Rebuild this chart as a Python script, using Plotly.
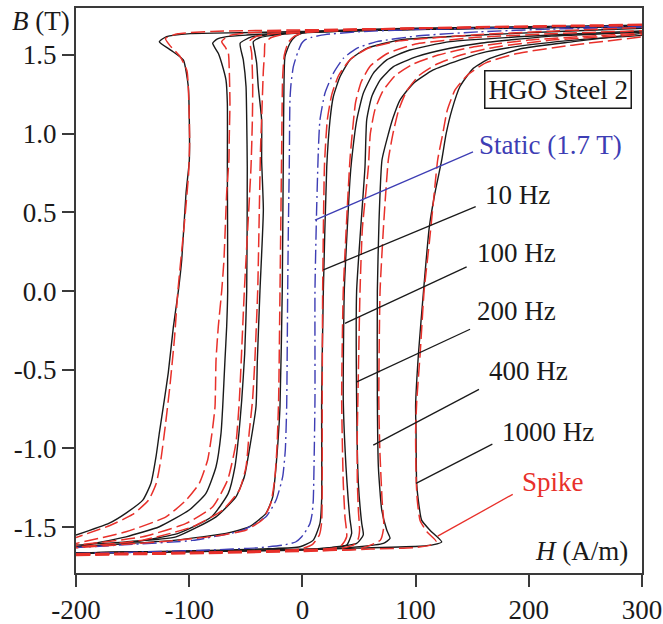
import plotly.graph_objects as go

# ---------------- data: B-H loops of HGO Steel 2 ----------------
# H in A/m, B in T.  "desc" = falling branch, "asc" = rising branch.

# static loop (1.7 T)
STATIC_DESC_H = [300, 200, 100, 50, 20, 8, 2, -0.6, -4, -8, -10, -11, -11.6, -12.4, -13, -13.9, -15.1, -17.4, -23.3, -32.2, -52.7, -97, -150, -200]
STATIC_DESC_B = [1.685, 1.675, 1.662, 1.648, 1.63, 1.612, 1.595, 1.575, 1.52, 1.426, 1.32, 1.214, 0.79, 0.4, 0.0, -0.735, -1.01, -1.18, -1.33, -1.435, -1.52, -1.585, -1.61, -1.63]
STATIC_ASC_H = [-200, -150, -82, -40, -17.4, -6, -0.6, 3.5, 6.7, 8.5, 9.6, 11.1, 11.1, 12.5, 14.1, 15.5, 19.9, 27.3, 36.1, 48, 65.6, 101, 157, 220, 300]
STATIC_ASC_B = [-1.668, -1.66, -1.646, -1.632, -1.615, -1.595, -1.562, -1.52, -1.477, -1.42, -1.33, -0.69, 0.0, 0.5, 0.896, 1.087, 1.257, 1.384, 1.479, 1.543, 1.585, 1.621, 1.648, 1.665, 1.678]

# 10 Hz measured / spike model
F10_DESC_H = [300, 200, 100, 40, 10, 0, -6, -11, -15.4, -16.3, -16.9, -17.8, -19.8, -21.5, -23.3, -26.2, -32.2, -46.9, -67.5, -111.7, -200]
F10_DESC_B = [1.69, 1.68, 1.67, 1.66, 1.65, 1.64, 1.62, 1.575, 1.49, 1.30, 0.83, 0.0, -0.735, -0.95, -1.117, -1.308, -1.413, -1.498, -1.54, -1.583, -1.626]
F10_ASC_H = [-200, -100, -30, -2.1, 9.6, 15.5, 17, 17, 18.5, 21.5, 24.4, 27.3, 33.2, 42, 56.8, 86.2, 156.9, 220, 300]
F10_ASC_B = [-1.665, -1.652, -1.638, -1.625, -1.583, -1.477, -1.33, -0.693, 0.0, 0.79, 1.087, 1.235, 1.362, 1.469, 1.543, 1.596, 1.627, 1.648, 1.67]
F10_SPIKE_DESC_H = [300, 200, 100, 40, 10, 0, -7, -12.5, -16, -17.5, -18.3, -19.8, -21, -22.5, -24.5, -28, -35, -50, -80, -120, -200]
F10_SPIKE_DESC_B = [1.695, 1.685, 1.672, 1.662, 1.65, 1.64, 1.62, 1.58, 1.50, 1.35, 0.9, 0.0, -0.69, -1.0, -1.2, -1.35, -1.45, -1.52, -1.56, -1.59, -1.632]
F10_SPIKE_ASC_H = [-200, -100, -30, -2, 9, 15, 17, 17.5, 17.9, 19.5, 22, 26, 32, 42, 57, 86, 157, 220, 300]
F10_SPIKE_ASC_B = [-1.675, -1.665, -1.652, -1.64, -1.61, -1.55, -1.47, -0.69, 0.0, 0.8, 1.087, 1.25, 1.37, 1.47, 1.54, 1.59, 1.63, 1.652, 1.675]

# 100 Hz measured / spike model
F100_DESC_H = [300, 150, 50, -20, -38, -43.4, -42, -40.4, -39, -36, -36, -34.5, -37.5, -39.8, -41, -46.9, -51.3, -58.7, -76.3, -111.7, -155.8, -200]
F100_DESC_B = [1.685, 1.67, 1.655, 1.63, 1.61, 1.585, 1.52, 1.448, 1.30, 1.087, 0.833, 0.515, 0.0, -0.44, -0.735, -1.01, -1.18, -1.308, -1.435, -1.562, -1.594, -1.615]
F100_ASC_H = [-200, -100, 0, 18.5, 39.1, 43.5, 42, 40.5, 38.5, 36.1, 37, 42, 43.5, 48, 53.8, 62.6, 74.5, 95, 130.4, 218.7, 300]
F100_ASC_B = [-1.665, -1.655, -1.64, -1.636, -1.615, -1.54, -1.45, -1.329, -1.117, -0.693, 0.0, 0.705, 0.833, 1.087, 1.257, 1.384, 1.469, 1.532, 1.585, 1.627, 1.653]
F100_SPIKE_DESC_H = [300, 150, 50, -15, -28, -33, -33.5, -34.5, -35.5, -37, -39.5, -42, -44, -47, -49.8, -55.7, -70.4, -96.9, -141, -200]
F100_SPIKE_DESC_B = [1.69, 1.675, 1.66, 1.635, 1.61, 1.575, 1.51, 1.40, 1.2, 0.9, 0.0, -0.44, -0.69, -0.90, -1.117, -1.265, -1.392, -1.498, -1.583, -1.626]
F100_SPIKE_ASC_H = [-200, -100, 0, 33.2, 39.1, 37.6, 36.1, 34.7, 36.1, 42, 44, 47, 52, 60, 75, 100, 150, 220, 300]
F100_SPIKE_ASC_B = [-1.67, -1.66, -1.645, -1.626, -1.562, -1.435, -1.22, -0.693, 0.0, 0.833, 1.0, 1.2, 1.33, 1.43, 1.51, 1.57, 1.61, 1.635, 1.655]

# 200 Hz measured / spike model
F200_DESC_H = [300, 150, 50, -20, -45, -55, -52.2, -49.8, -49.2, -48.7, -49.2, -51, -53.6, -56.1, -59.6, -65.5, -80.2, -109.7, -155.8, -200]
F200_DESC_B = [1.685, 1.67, 1.655, 1.635, 1.615, 1.575, 1.469, 1.30, 1.087, 0.79, 0.0, -0.4, -0.693, -0.905, -1.117, -1.286, -1.435, -1.54, -1.604, -1.626]
F200_ASC_H = [-200, -100, 0, 47.9, 53.8, 52.4, 49.4, 47.9, 47.9, 55.3, 56.8, 61.2, 68.6, 80.4, 101, 130.4, 156.9, 220, 300]
F200_ASC_B = [-1.665, -1.655, -1.645, -1.604, -1.55, -1.477, -1.22, -0.693, 0.0, 0.79, 1.087, 1.235, 1.341, 1.426, 1.49, 1.543, 1.575, 1.62, 1.645]
F200_SPIKE_DESC_H = [300, 150, 50, -20, -40, -46.3, -44.8, -43.9, -44.2, -45.4, -51.3, -55.7, -58.7, -66, -79.2, -102.8, -141, -200]
F200_SPIKE_DESC_B = [1.69, 1.675, 1.66, 1.64, 1.62, 1.591, 1.511, 1.30, 1.087, 0.79, 0.0, -0.693, -0.966, -1.2, -1.371, -1.477, -1.562, -1.615]
F200_SPIKE_ASC_H = [-200, -100, 0, 30, 45, 49, 50.5, 49.5, 48.5, 48.5, 49, 50.9, 53, 58.3, 60, 64, 71, 82, 97, 120, 150, 200, 300]
F200_SPIKE_ASC_B = [-1.675, -1.665, -1.65, -1.64, -1.615, -1.58, -1.52, -1.4, -1.2, -0.9, -0.69, 0.0, 0.4, 0.79, 1.0, 1.15, 1.27, 1.37, 1.44, 1.5, 1.55, 1.595, 1.64]

# 400 Hz measured / spike model
F400_DESC_H = [300, 100, 0, -49.2, -67, -75.8, -79.3, -74.3, -71.3, -67.5, -66.3, -66.3, -66, -66.9, -68.4, -70.4, -71.9, -76.3, -85.2, -100, -126.4, -155.8, -200]
F400_DESC_B = [1.685, 1.665, 1.645, 1.627, 1.617, 1.6, 1.575, 1.511, 1.448, 1.341, 1.193, 0.769, 0.0, -0.227, -0.439, -0.735, -0.905, -1.117, -1.286, -1.392, -1.498, -1.562, -1.626]
F400_ASC_H = [-200, -100, 0, 47.9, 71.5, 77.4, 74.5, 70.1, 67.1, 66.2, 66.2, 67.7, 70.3, 76, 80, 86.2, 98, 115.6, 139.2, 156.9, 190, 240, 300]
F400_ASC_B = [-1.665, -1.655, -1.645, -1.626, -1.604, -1.572, -1.519, -1.392, -1.117, -0.693, 0.0, 0.45, 0.833, 1.0, 1.1, 1.214, 1.32, 1.405, 1.469, 1.511, 1.555, 1.595, 1.625]
F400_SPIKE_DESC_H = [300, 100, 0, -50, -64, -68, -71.3, -68.4, -65.4, -64.6, -64, -64.6, -64.9, -66.9, -69.3, -71.3, -74.3, -76.3, -77.2, -79.9, -83.7, -91.1, -102.8, -120.5, -155.8, -200]
F400_SPIKE_DESC_B = [1.69, 1.67, 1.655, 1.64, 1.625, 1.61, 1.585, 1.553, 1.511, 1.405, 1.193, 0.98, 0.833, 0.621, 0.197, 0.0, -0.227, -0.439, -0.735, -0.905, -1.074, -1.223, -1.329, -1.435, -1.53, -1.604]
F400_SPIKE_ASC_H = [-200, -100, 0, 50, 68.9, 71.9, 70.4, 68.4, 67.5, 68.6, 72, 75.9, 80, 85, 92, 103, 118, 140, 170, 220, 300]
F400_SPIKE_ASC_B = [-1.675, -1.665, -1.65, -1.64, -1.583, -1.498, -1.329, -1.01, -0.693, 0.0, 0.45, 0.833, 1.0, 1.15, 1.27, 1.37, 1.44, 1.5, 1.55, 1.595, 1.63]

# 1000 Hz measured / spike model
F1000_DESC_H = [300, 200, 86, -11, -55, -99, -120, -126.4, -116, -105.2, -100.8, -99.9, -99.9, -102.8, -106.6, -109.6, -114, -118.5, -122, -126.4, -129.3, -133.7, -141, -155.8, -170.6, -200]
F1000_DESC_B = [1.68, 1.672, 1.66, 1.648, 1.642, 1.636, 1.617, 1.585, 1.53, 1.469, 1.30, 1.087, 0.83, 0.623, 0.197, 0.0, -0.229, -0.52, -0.693, -0.903, -1.053, -1.22, -1.329, -1.411, -1.475, -1.551]
F1000_ASC_H = [-200, -100, 0, 48, 104, 116, 123.1, 112.7, 105.3, 102.4, 100.9, 100.4, 100, 102.5, 107, 112, 117, 123, 127, 132, 139.2, 151, 165.7, 195.1, 239.3, 300]
F1000_ASC_B = [-1.665, -1.655, -1.645, -1.634, -1.622, -1.612, -1.594, -1.52, -1.456, -1.33, -1.22, -0.90, -0.73, -0.4, 0.0, 0.4, 0.62, 0.83, 1.0, 1.15, 1.3, 1.416, 1.479, 1.543, 1.585, 1.638]
F1000_SPIKE_DESC_H = [300, 100, 0, -80, -110, -121, -117, -108, -102, -100.3, -99.6, -100.5, -104, -110, -113, -117, -121, -125, -129, -136, -150, -170, -200]
F1000_SPIKE_DESC_B = [1.69, 1.67, 1.66, 1.65, 1.635, 1.605, 1.56, 1.49, 1.40, 1.2, 0.95, 0.75, 0.45, 0.0, -0.3, -0.6, -0.85, -1.07, -1.22, -1.33, -1.42, -1.49, -1.566]
F1000_SPIKE_ASC_H = [-200, -100, 0, 60, 100, 113, 118, 110, 104, 101.5, 100.5, 100, 101, 104, 107.5, 112, 115.5, 119.5, 124, 128, 135, 147, 162, 190, 235, 300]
F1000_SPIKE_ASC_B = [-1.68, -1.67, -1.655, -1.64, -1.63, -1.615, -1.59, -1.53, -1.46, -1.33, -1.2, -0.9, -0.7, -0.4, 0.0, 0.3, 0.55, 0.833, 1.0, 1.15, 1.28, 1.38, 1.45, 1.51, 1.56, 1.615]

# axis ticks
X_TICKS = [-200, -100, 0, 100, 200, 300]
X_TICK_TEXT = ["-200", "-100", "0", "100", "200", "300"]
Y_TICKS = [-1.5, -1.0, -0.5, 0.0, 0.5, 1.0, 1.5]
Y_TICK_TEXT = ["-1.5", "-1.0", "-0.5", "0.0", "0.5", "1.0", "1.5"]

# ---------------- styles ----------------
BLACK = "#1a1a1a"
RED = "#e8302a"
BLUE = "#3d3db4"
FONT = "Liberation Serif"
TEXT_SIZE = 27

fig = go.Figure()


def branch(h, b, color, dash, width):
    fig.add_trace(go.Scatter(
        x=h, y=b, mode="lines",
        line=dict(color=color, dash=dash, width=width, shape="spline", smoothing=0.5),
        hoverinfo="skip", showlegend=False))


measured = [
    (F10_DESC_H, F10_DESC_B), (F10_ASC_H, F10_ASC_B),
    (F100_DESC_H, F100_DESC_B), (F100_ASC_H, F100_ASC_B),
    (F200_DESC_H, F200_DESC_B), (F200_ASC_H, F200_ASC_B),
    (F400_DESC_H, F400_DESC_B), (F400_ASC_H, F400_ASC_B),
    (F1000_DESC_H, F1000_DESC_B), (F1000_ASC_H, F1000_ASC_B),
]
spike = [
    (F10_SPIKE_DESC_H, F10_SPIKE_DESC_B), (F10_SPIKE_ASC_H, F10_SPIKE_ASC_B),
    (F100_SPIKE_DESC_H, F100_SPIKE_DESC_B), (F100_SPIKE_ASC_H, F100_SPIKE_ASC_B),
    (F200_SPIKE_DESC_H, F200_SPIKE_DESC_B), (F200_SPIKE_ASC_H, F200_SPIKE_ASC_B),
    (F400_SPIKE_DESC_H, F400_SPIKE_DESC_B), (F400_SPIKE_ASC_H, F400_SPIKE_ASC_B),
    (F1000_SPIKE_DESC_H, F1000_SPIKE_DESC_B), (F1000_SPIKE_ASC_H, F1000_SPIKE_ASC_B),
]

for h, b in measured:
    branch(h, b, BLACK, "solid", 1.4)
for h, b in [(STATIC_DESC_H, STATIC_DESC_B), (STATIC_ASC_H, STATIC_ASC_B)]:
    branch(h, b, BLUE, "14px,4px,2px,4px", 1.4)
for h, b in spike:
    branch(h, b, RED, "14px,5px", 1.5)

# ---------------- leader lines and labels ----------------
leaders = [
    ((150.7, 0.884), (11.1, 0.451), BLUE),
    ((153.1, 0.536), (18.5, 0.134), BLACK),
    ((145.1, 0.154), (37.6, -0.205), BLACK),
    ((148.1, -0.243), (48.0, -0.577), BLACK),
    ((156.0, -0.625), (62.6, -0.979), BLACK),
    ((167.8, -0.973), (100.4, -1.222), BLACK),
    ((185.8, -1.292), (119.5, -1.558), RED),
]
for (x0, y0), (x1, y1), c in leaders:
    fig.add_shape(type="line", xref="x", yref="y", x0=x0, y0=y0, x1=x1, y1=y1,
                  line=dict(color=c, width=1.3))

labels = [
    ("Static (1.7 T)", 154.0, 0.928, BLUE),
    ("10 Hz", 159.5, 0.61, BLACK),
    ("100 Hz", 152.5, 0.242, BLACK),
    ("200 Hz", 152.5, -0.127, BLACK),
    ("400 Hz", 163.1, -0.509, BLACK),
    ("1000 Hz", 174.6, -0.896, BLACK),
    ("Spike", 192.2, -1.214, RED),
]
for txt, x, y, c in labels:
    fig.add_annotation(x=x, y=y, xref="x", yref="y", text=txt, showarrow=False,
                       xanchor="left", yanchor="middle",
                       font=dict(family=FONT, size=TEXT_SIZE, color=c))

fig.add_annotation(x=225.4, y=1.278, xref="x", yref="y", text="HGO Steel 2",
                   showarrow=False, xanchor="center", yanchor="middle",
                   font=dict(family=FONT, size=TEXT_SIZE, color=BLACK),
                   bordercolor=BLACK, borderwidth=1.5, borderpad=3, bgcolor="white")

fig.add_annotation(x=289.4, y=-1.653, xref="x", yref="y", text="<i>H</i> (A/m)",
                   showarrow=False, xanchor="right", yanchor="middle",
                   font=dict(family=FONT, size=TEXT_SIZE, color=BLACK))

fig.add_annotation(x=-0.117, y=0.977, xref="paper", yref="paper", text="<i>B</i> (T)",
                   showarrow=False, xanchor="left", yanchor="middle",
                   font=dict(family=FONT, size=TEXT_SIZE, color=BLACK))

axis_common = dict(
    showgrid=False, zeroline=False, showline=True, mirror=True, automargin=False,
    linecolor="#3a3a3a", linewidth=2, ticks="outside", ticklen=12,
    tickwidth=1.5, tickcolor="#3a3a3a",
    tickfont=dict(family=FONT, size=TEXT_SIZE, color=BLACK),
)

fig.update_layout(
    width=663, height=624,
    margin=dict(l=76, r=21, t=8, b=51, autoexpand=False),
    paper_bgcolor="white", plot_bgcolor="white",
    xaxis=dict(range=[-200, 300], tickvals=X_TICKS, ticktext=X_TICK_TEXT, **axis_common),
    yaxis=dict(range=[-1.792, 1.799], tickvals=Y_TICKS, ticktext=Y_TICK_TEXT, **axis_common),
)

fig.write_html("out.html")
